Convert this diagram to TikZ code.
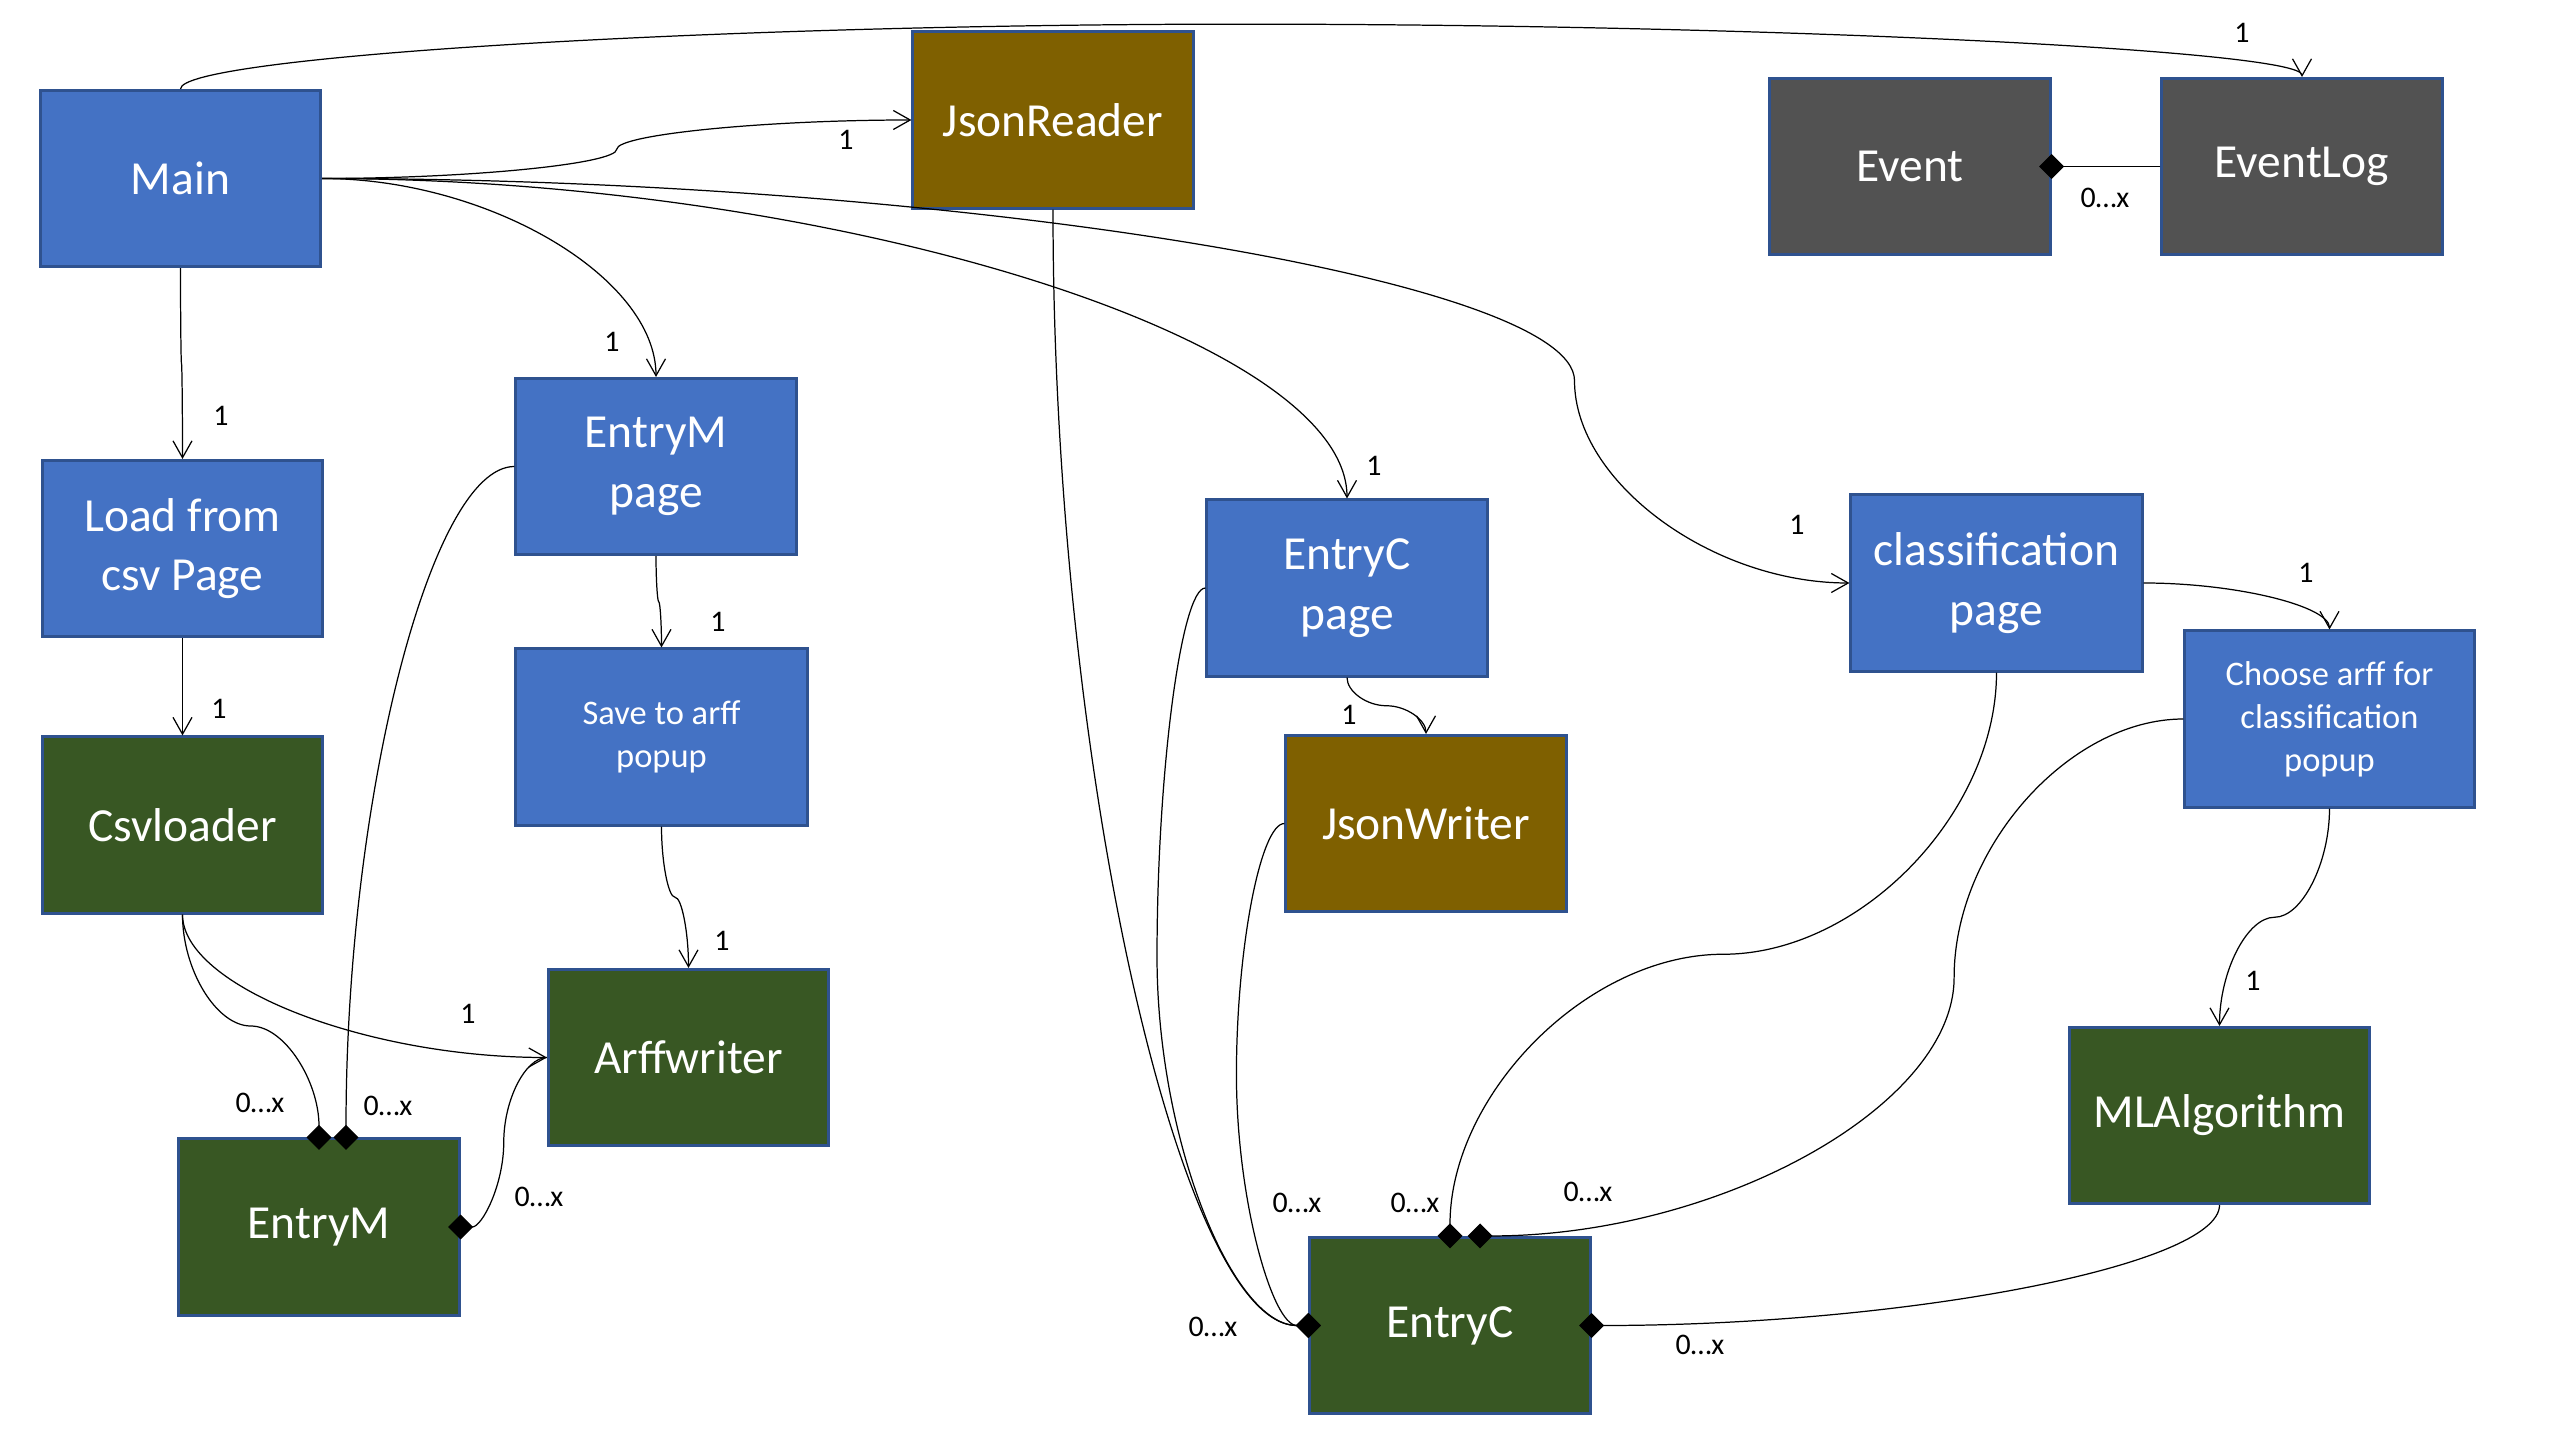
\documentclass[tikz,border=0pt]{standalone}
\usepackage{fontspec,tikz}
\setmainfont{Carlito}
\usetikzlibrary{arrows.meta,calc}
\definecolor{boxblue}{HTML}{4472C4}
\definecolor{boxedge}{HTML}{2F528F}
\definecolor{boxgreen}{HTML}{385723}
\definecolor{boxbrown}{HTML}{7F6000}
\definecolor{boxgrey}{HTML}{525252}
\tikzset{
  cls/.style={rectangle,draw=boxedge,line width=0.85pt,text=white,minimum width=2.8cm,minimum height=1.76cm,inner sep=0pt,align=center,font=\fontsize{13.5}{17}\selectfont},
  page/.style={cls,fill=boxblue},
  popup/.style={cls,fill=boxblue,font=\fontsize{9.8}{12.2}\selectfont},
  model/.style={cls,fill=boxgreen},
  json/.style={cls,fill=boxbrown},
  logbox/.style={cls,fill=boxgrey},
  mult/.style={font=\fontsize{8.5}{10}\selectfont,inner sep=0pt},
  con/.style={draw,line width=0.35pt},
  uses/.style={con,-{Straight Barb[length=4.8pt,width=5.4pt]}},
  owns/.style={con,-{Diamond[length=7.1pt,width=7.1pt]},shorten >=-3.55pt},
  hh/.style={to path={let \p1=(\tikztostart),\p2=(\tikztotarget) in
    .. controls ({\x1+(#1)*(\x2-\x1)/2},\y1) and ({\x1+(#1)*(\x2-\x1)},{(3*\y1+\y2)/4}) .. ({\x1+(#1)*(\x2-\x1)},{(\y1+\y2)/2})
    .. controls ({\x1+(#1)*(\x2-\x1)},{(\y1+3*\y2)/4}) and ({(\x1+(#1)*(\x2-\x1)+\x2)/2},\y2) .. (\tikztotarget)}},
  hh/.default=0.5,
  vv/.style={to path={let \p1=(\tikztostart),\p2=(\tikztotarget) in
    .. controls (\x1,{\y1+(#1)*(\y2-\y1)/2}) and ({(3*\x1+\x2)/4},{\y1+(#1)*(\y2-\y1)}) .. ({(\x1+\x2)/2},{\y1+(#1)*(\y2-\y1)})
    .. controls ({(\x1+3*\x2)/4},{\y1+(#1)*(\y2-\y1)}) and (\x2,{(\y1+(#1)*(\y2-\y1)+\y2)/2}) .. (\tikztotarget)}},
  vv/.default=0.5,
  hv/.style={to path={let \p1=(\tikztostart),\p2=(\tikztotarget) in .. controls ({(\x1+\x2)/2},\y1) and (\x2,{(\y1+\y2)/2}) .. (\tikztotarget)}},
  vh/.style={to path={let \p1=(\tikztostart),\p2=(\tikztotarget) in .. controls (\x1,{(\y1+\y2)/2}) and ({(\x1+\x2)/2},\y2) .. (\tikztotarget)}},
}
\begin{document}
\begin{tikzpicture}[x=0.01cm,y=-0.01cm]
\useasboundingbox (0,0) rectangle (2560,1437);
\node[page] (main) at (180.5,178.5) {Main};
\node[json] (jreader) at (1053,120) {JsonReader};
\node[logbox] (event) at (1910,166.5) {Event}; \node[logbox] (evlog) at (2302,166.5) {EventLog};
\node[page] (loadcsv) at (182.5,548.5) {Load from\\csv Page};
\node[page] (mpage) at (656,466.5) {EntryM\\page};
\node[popup,minimum width=2.91cm] (savepop) at (661.5,737) {Save to arff\\popup};
\node[page] (cpage) at (1347,588) {EntryC\\page};
\node[page,minimum width=2.91cm] (clpage) at (1996.5,583) {classification\\page};
\node[popup,minimum width=2.89cm] (choosepop) at (2329.5,719) {Choose arff for\\classification\\popup};
\node[json] (jwriter) at (1426,823.5) {JsonWriter};
\node[model] (csvl) at (182.5,825) {Csvloader};
\node[model] (arffw) at (688.5,1057.5) {Arffwriter};
\node[model] (entm) at (319,1227) {EntryM};
\node[model] (entc) at (1450,1325.5) {EntryC};
\node[model,minimum width=2.99cm] (mlalg) at (2219.5,1115.5) {MLAlgorithm};
\draw[uses] (main.north) to[vv=5.4] (evlog.north);
\draw[uses] (main.east) to[hh] (jreader.west); \draw[uses] (main.east) to[hv] (mpage.north);
\draw[uses] (main.east) to[hv] (cpage.north); \draw[uses] (main.east) to[hh=0.82] (clpage.west);
\draw[uses] (main.south) to[vv] (loadcsv.north); \draw[uses] (loadcsv.south) to[vv] (csvl.north);
\draw[uses] (mpage.south) to[vv] (savepop.north); \draw[uses] (savepop.south) to[vv] (arffw.north);
\draw[uses] (csvl.south) to[vh] (arffw.west);
\draw[owns] (csvl.south) to[vv] (entm.north); \draw[owns] (mpage.west) to[hv] ([xshift=0.27cm]entm.north);
\draw[owns] (arffw.west) to[hh] (entm.east);
\draw[owns] (jreader.south) to[vh] (entc.west); \draw[owns] (cpage.west) to[hh=-0.47] (entc.west);
\draw[owns] (jwriter.west) to[hh=-2] (entc.west); \draw[uses] (cpage.south) to[vv] (jwriter.north);
\draw[owns] (clpage.south) to[vv] (entc.north); \draw[owns] (choosepop.west) to[hh=0.326] ([xshift=0.3cm]entc.north);
\draw[uses] (clpage.east) to[hv] (choosepop.north); \draw[uses] (choosepop.south) to[vv] (mlalg.north);
\draw[owns] (mlalg.south) to[vh] (entc.east); \draw[owns] (evlog.west) to[hh] (event.east);
\foreach \p/\t [count=\i] in {(2242,33)/1,(846,140)/1,(612,342)/1,(221,416)/1,(219,709)/1,(718,622)/1,(722,941)/1,(468,1014)/1,
  (1374,466)/1,(1349,715)/1,(1797,525)/1,(2306,573)/1,(2253,981)/1,(260,1103)/0…x,(388,1106)/0…x,(539,1197)/0…x,
  (1213,1327)/0…x,(1297,1203)/0…x,(1415,1203)/0…x,(1588,1192)/0…x,(1700,1345)/0…x,(2105,198)/0…x}
  \node[mult] (lab\i) at \p {\t};
\end{tikzpicture}
\end{document}
